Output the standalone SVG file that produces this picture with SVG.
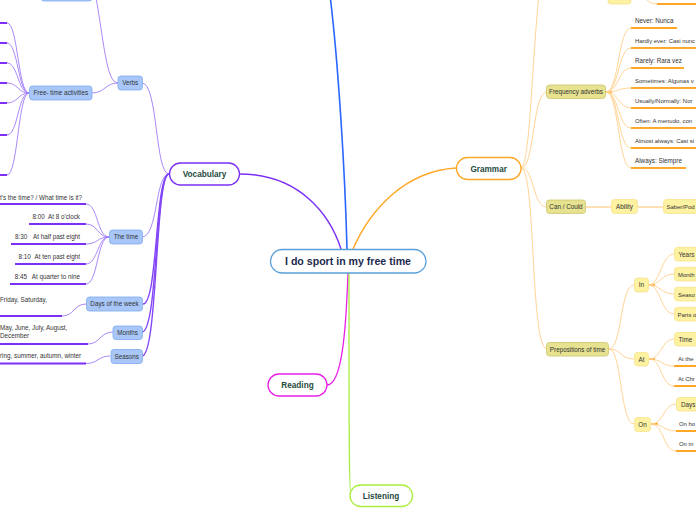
<svg xmlns="http://www.w3.org/2000/svg" width="696" height="520" viewBox="0 0 696 520">
<style>
.tm{font-family:"Liberation Sans",Arial,sans-serif;font-weight:bold;font-size:8.2px;fill:#1e4a3c;text-anchor:middle}
.ts{font-family:"Liberation Sans",Arial,sans-serif;font-size:6.3px;fill:#333}
.tn{font-size:5.95px}
.c{text-anchor:middle}
.e{text-anchor:end}
.blue{fill:#a8c7f8;stroke:#7eaaf0;stroke-width:0.8}
.olive{fill:#e6e290;stroke:#cbc56c;stroke-width:0.8}
.pale{fill:#fdf1a2;stroke:#f7e38a;stroke-width:0.8}
.main{fill:#fff;stroke-width:1.3}
path{fill:none}
.vl{stroke:#a07cf8;stroke-width:0.9}
.vt{stroke:#8446f7;stroke-width:1.4}
.vu{stroke:#7b2ff7;stroke-width:2}
.gl{stroke:#ffcf8a;stroke-width:0.9}
.gu{stroke:#ffa726;stroke-width:2}
.gp{stroke:#ffe1b5;stroke-width:2}
</style>
<g id="connectors">
<path d="M341,249 C330,215 300,174 239,174" stroke="#7b2ff7" stroke-width="1.5"/>
<path d="M347,249 C345,170 338,60 330,-5" stroke="#2a66ff" stroke-width="1.6"/>
<path d="M353,249 C370,210 405,171 456,168" stroke="#ffa726" stroke-width="1.5"/>
<path d="M348,273 C346,330 342,385 327,385" stroke="#ea1fe8" stroke-width="1.3"/>
<path d="M349,273 C349,420 349,496 351,496" stroke="#a8ee3c" stroke-width="1.3"/>
<path class="vl" d="M169,174 C155,174 158,83 142,83"/>
<path class="vl" d="M169,174 C155,174 158,237 142,237"/>
<path class="vt" d="M169,174 C155,174 158,304 143,304"/>
<path class="vt" d="M169,174 C155,174 158,332 142,332"/>
<path class="vt" d="M169,174 C155,174 158,356 142,356"/>
<path class="vl" d="M118,83 C106,83 104,40 95,-8"/>
<path class="vl" d="M118,83 C105,83 105,93 92,93"/>
<path class="vl" d="M29,93 C18,93 18,23 7,23"/>
<path class="vl" d="M29,93 C18,93 18,43 7,43"/>
<path class="vl" d="M29,93 C18,93 18,63 7,63"/>
<path class="vl" d="M29,93 C18,93 18,83 7,83"/>
<path class="vl" d="M29,93 C18,93 18,103 7,103"/>
<path class="vl" d="M29,93 C18,93 18,135 7,135"/>
<path class="vl" d="M29,93 C18,93 18,175 7,175"/>
<path class="vu" d="M-2,23 L7,23 M-2,43 L7,43 M-2,63 L7,63 M-2,83 L7,83 M-2,103 L7,103 M-2,135 L7,135 M-2,175 L7,175"/>
<path class="vl" d="M109,237 C97,237 98,204 86,204"/>
<path class="vl" d="M109,237 C97,237 98,224 86,224"/>
<path class="vl" d="M109,237 C97,237 98,244 86,244"/>
<path class="vl" d="M109,237 C97,237 98,264 86,264"/>
<path class="vl" d="M109,237 C97,237 98,284 86,284"/>
<path class="vu" d="M-2,204 L86,204 M29,224 L86,224 M11,244 L86,244 M15,264 L86,264 M10,284 L86,284"/>
<path class="vl" d="M86,304 C74,304 74,316 62,316"/>
<path class="vu" d="M-2,316 L62,316"/>
<path class="vl" d="M113,332 C100,332 100,344 88,344"/>
<path class="vu" d="M-2,344 L88,344"/>
<path class="vl" d="M110,356 C98,356 98,363.5 86,363.5"/>
<path class="vu" d="M-2,363.5 L86,363.5"/>
<path class="gl" d="M521,168 C530,166 532,60 539,-5"/>
<path class="gl" d="M521,168 C535,168 532,92 547,92"/>
<path class="gl" d="M521,168 C535,168 532,207 547,207"/>
<path class="gl" d="M521,168 C536,168 530,349 547,349"/>
<path class="gl" d="M644,-3 C650,3 652,4 658,4"/>
<path class="gu" d="M657,4 L700,4"/>
<path class="gu" d="M605,92 L612,92"/>
<path class="gl" d="M606,92 C619,92 618,28 631,28"/>
<path class="gl" d="M606,92 C619,92 618,48 631,48"/>
<path class="gl" d="M606,92 C619,92 618,68 631,68"/>
<path class="gl" d="M606,92 C619,92 618,88 631,88"/>
<path class="gl" d="M606,92 C619,92 618,108 631,108"/>
<path class="gl" d="M606,92 C619,92 618,128 631,128"/>
<path class="gl" d="M606,92 C619,92 618,148 631,148"/>
<path class="gl" d="M606,92 C619,92 618,168 631,168"/>
<path class="gu" d="M631,28 L677,28 M631,48 L700,48 M631,68 L684,68 M631,88 L700,88 M631,108 L700,108 M631,128 L700,128 M631,148 L700,148 M631,168 L686,168"/>
<path class="gp" d="M586,207 L612,207 M637.5,207 L663.5,207"/>
<path class="gl" d="M609,349 C622,349 620,285 634,285"/>
<path class="gl" d="M609,349 C622,349 620,359 634,359"/>
<path class="gl" d="M609,349 C622,349 620,424 634,424"/>
<path class="gu" d="M648,285 L655,285 M649,359 L655,359 M651,424 L658,424"/>
<path class="gl" d="M648,285 C661,285 661,254 674,254"/>
<path class="gl" d="M648,285 C661,285 661,274 674,274"/>
<path class="gl" d="M648,285 C661,285 661,294 674,294"/>
<path class="gl" d="M648,285 C661,285 661,314 674,314"/>
<path class="gl" d="M649,359 C662,359 661,339 674,339"/>
<path class="gl" d="M649,359 C662,359 661,366 674,366"/>
<path class="gl" d="M649,359 C662,359 661,386 674,386"/>
<path class="gu" d="M674,366 L700,366 M674,386 L700,386"/>
<path class="gl" d="M651,424 C664,424 663,404 676,404"/>
<path class="gl" d="M651,424 C664,424 663,431 676,431"/>
<path class="gl" d="M651,424 C664,424 663,451 676,451"/>
<path class="gu" d="M676,431 L700,431 M676,451 L700,451"/>
</g>
<g id="central"><rect class="main" x="270.5" y="249.5" width="155.5" height="23.5" rx="11.75" stroke="#5aa0dc"/><text x="348" y="265" style="font-family:'Liberation Sans',Arial,sans-serif;font-weight:bold;font-size:10.6px;fill:#1b2a4e;text-anchor:middle">I do sport in my free time</text></g>
<g id="vocabulary"><rect class="main" x="169.5" y="163" width="70" height="22" rx="11" stroke="#7b2ff7"/><text class="tm" x="204.5" y="177">Vocabulary</text></g>
<g id="grammar"><rect class="main" x="456.5" y="157.5" width="64.5" height="22" rx="11" stroke="#ffa726"/><text class="tm" x="488.7" y="171.5">Grammar</text></g>
<g id="reading"><rect class="main" x="268" y="374" width="59" height="22" rx="11" stroke="#ea1fe8"/><text class="tm" x="297.5" y="388">Reading</text></g>
<g id="listening"><rect class="main" x="350" y="485" width="62.5" height="21.5" rx="10.75" stroke="#a8ee3c"/><text class="tm" x="381" y="499">Listening</text></g>
<g id="top-node"><rect class="blue" x="41" y="-14" width="51" height="15" rx="3"/></g>
<g id="verbs"><rect class="blue" x="118" y="76" width="24.5" height="14" rx="3"/><text class="ts c" x="130.2" y="85.3">Verbs</text></g>
<g id="free-time"><rect class="blue" x="29.5" y="86" width="62.5" height="14" rx="3"/><text class="ts c" x="60.8" y="95.3">Free- time activities</text></g>
<g id="the-time"><rect class="blue" x="109.5" y="230" width="33" height="14" rx="3"/><text class="ts c" x="126" y="239.3">The time</text></g>
<g id="time-leaves">
<text class="ts" x="0" y="199.5">t's the time? / What time is it?</text>
<text class="ts" x="32.5" y="219">8:00</text><text class="ts e" x="80" y="219">At 8 o'clock</text>
<text class="ts" x="15" y="239">8:30</text><text class="ts e" x="80" y="239">At half past eight</text>
<text class="ts" x="18.5" y="259">8:10</text><text class="ts e" x="80" y="259">At ten past eight</text>
<text class="ts" x="14.7" y="279">8:45</text><text class="ts e" x="80" y="279">At quarter to nine</text>
</g>
<g id="days"><rect class="blue" x="86.5" y="297" width="56" height="14" rx="3"/><text class="ts c" x="114.5" y="306.3">Days of the week</text><text class="ts" x="0" y="302">Friday, Saturday,</text></g>
<g id="months"><rect class="blue" x="113" y="326" width="29.5" height="13.5" rx="3"/><text class="ts c" x="127.7" y="335">Months</text><text class="ts" x="0" y="330">May, June, July, August,</text><text class="ts" x="0" y="338">December</text></g>
<g id="seasons"><rect class="blue" x="111" y="349.5" width="31.5" height="14" rx="3"/><text class="ts c" x="126.7" y="358.8">Seasons</text><text class="ts" x="0" y="358">ring, summer, autumn, winter</text></g>
<g id="grammar-top"><rect class="pale" x="608" y="-10" width="23" height="14" rx="3"/></g>
<g id="freq"><rect class="olive" x="546.5" y="85" width="59" height="13.5" rx="3"/><text class="ts c" x="576" y="94.3">Frequency adverbs</text>
<text class="ts" x="635" y="23">Never: Nunca</text>
<text class="ts tn" x="635" y="43">Hardly ever: Casi nunc</text>
<text class="ts" x="635" y="63">Rarely: Rara vez</text>
<text class="ts tn" x="635" y="83">Sometimes: Algunas v</text>
<text class="ts tn" x="635" y="103">Usually/Normally: Nor</text>
<text class="ts tn" x="635" y="123">Often: A menudo, con</text>
<text class="ts tn" x="635" y="143">Almost always: Casi si</text>
<text class="ts" x="635" y="163">Always: Siempre</text>
</g>
<g id="can"><rect class="olive" x="546.5" y="200" width="39" height="13.5" rx="3"/><text class="ts c" x="566" y="209.3">Can / Could</text></g>
<g id="ability"><rect class="pale" x="611.5" y="199.5" width="26" height="14" rx="3"/><text class="ts c" x="624.5" y="209.3">Ability</text></g>
<g id="saber"><rect class="pale" x="663.5" y="199.5" width="50" height="14" rx="3"/><text class="ts tn" x="666.5" y="209.3">Saber/Pod</text></g>
<g id="prep"><rect class="olive" x="546.5" y="342.5" width="62" height="13.5" rx="3"/><text class="ts c" x="577.5" y="351.6">Prepositions of time</text></g>
<g id="in"><rect class="pale" x="634.5" y="278" width="14" height="14" rx="3"/><text class="ts c" x="641.5" y="287.3">In</text>
<rect class="pale" x="674.5" y="247.3" width="40" height="13.7" rx="3"/><text class="ts" x="678.5" y="256.5">Years</text>
<rect class="pale" x="674.5" y="267.3" width="40" height="13.7" rx="3"/><text class="ts tn" x="678" y="276.5">Month</text>
<rect class="pale" x="674.5" y="287.3" width="40" height="13.7" rx="3"/><text class="ts tn" x="678" y="296.5">Seaso</text>
<rect class="pale" x="674.5" y="307.3" width="40" height="13.7" rx="3"/><text class="ts tn" x="677.5" y="316.5">Parts o</text>
</g>
<g id="at"><rect class="pale" x="634.5" y="352.5" width="14" height="13.5" rx="3"/><text class="ts c" x="641.5" y="361.8">At</text>
<rect class="pale" x="674.5" y="332.5" width="40" height="13.5" rx="3"/><text class="ts" x="678.5" y="341.6">Time</text>
<text class="ts tn" x="678" y="360.5">At the</text>
<text class="ts tn" x="678" y="381">At Chr</text>
</g>
<g id="on"><rect class="pale" x="634.5" y="417.5" width="16" height="14" rx="3"/><text class="ts c" x="642.5" y="426.8">On</text>
<rect class="pale" x="676.5" y="397.5" width="40" height="13.5" rx="3"/><text class="ts" x="681" y="406.6">Days</text>
<text class="ts tn" x="679" y="425.5">On ho</text>
<text class="ts tn" x="679" y="445.5">On m</text>
</g>
</svg>
